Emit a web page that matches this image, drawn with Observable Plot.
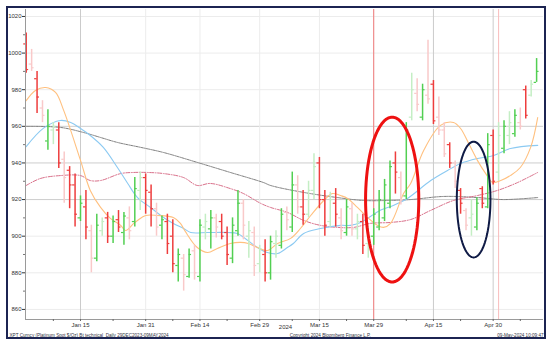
<!DOCTYPE html>
<html><head><meta charset="utf-8">
<script src="https://cdn.jsdelivr.net/npm/d3@7"></script>
<script src="https://cdn.jsdelivr.net/npm/@observablehq/plot@0.6"></script>
<style>
body{margin:0;background:#fff;}
#wrap{position:relative;width:555px;height:351px;overflow:hidden;background:#fff;}
#frame{position:absolute;left:6px;top:6px;width:536px;height:329px;border:2px solid #1c2452;pointer-events:none;}
</style></head>
<body><div id="wrap"><div id="chart"></div><div id="frame"></div></div>
<script>
// x tick labels (trading-day index) and minor ticks
const labelIdx = [10,22,32,43,54,64,75,86];
const labelTxt = ["Jan 15","Jan 31","Feb 14","Feb 29","Mar 15","Mar 29","Apr 15","Apr 30"];
const minorIdx = [5,16,27,37,49,59,70,80,91];
const yTicks = [860,880,900,920,940,960,980,1000,1020];
const yMinor = [870,890,910,930,950,970,990,1010];

// daily OHLC bars (Platinum spot), pale = light-tinted bar
const open  = [1005,994,986,970,952,958,958,942,936,928,910,916,903,888,903,910,900,909,902,910,908,925,932,924,915,906,908,900,884,888,878,892,878,905,904,910,908,902,888,903,918,900,902,885,890,880,896,895,913,905,928,916,912,925,940,920,908,918,910,902,915,904,908,896,900,905,910,918,940,932,922,965,978,965,977,983,965,958,950,940,925,914,910,905,926,916,955,935,948,955,956,962,980,977,984];
const high  = [1011,1002,990,974,969,962,962,946,938,934,922,925,906,912,910,913,911,914,913,916,932,935,934,928,918,911,912,909,893,890,893,895,909,912,914,912,912,905,910,925,920,908,905,895,898,900,903,915,916,935,933,925,930,945,943,925,924,926,915,920,918,912,912,905,915,925,931,941,946,935,962,989,986,983,1007,985,976,962,951,941,926,915,920,921,927,956,958,962,963,968,969,970,982,985,997];
const low   = [989,990,967,962,947,950,937,918,915,905,908,898,880,886,900,896,896,902,895,898,905,914,912,905,900,898,890,880,875,870,877,876,875,898,893,899,898,884,885,900,898,888,878,880,875,876,888,893,903,902,912,906,910,920,915,900,905,905,898,900,900,898,890,888,895,903,908,915,923,917,920,963,968,963,972,961,955,943,937,926,912,903,900,903,915,915,928,930,945,950,954,958,964,976,984];
const close = [991,992,976,966,960,960,940,932,928,912,918,905,888,906,908,900,908,905,911,903,926,932,925,915,905,909,896,885,890,879,890,880,906,908,910,905,900,890,906,918,906,903,884,893,880,897,900,912,909,928,916,912,925,938,920,906,920,912,903,916,904,908,895,900,912,920,928,938,935,920,958,980,972,980,975,963,958,945,940,930,918,906,912,918,918,950,930,955,960,962,966,960,966,983,990];
const pale  = [0,1,0,1,0,1,0,1,0,0,0,0,1,0,1,0,0,0,0,1,0,1,0,0,1,0,0,0,0,1,0,1,0,1,0,1,0,0,0,0,1,1,1,1,0,0,1,0,1,0,1,0,1,1,0,0,1,0,1,0,1,1,0,1,0,0,0,0,0,1,0,1,1,0,1,0,1,1,0,1,0,1,1,0,0,0,0,1,0,1,0,1,0,1,0];

// moving averages: [index, value]
const maOrange = [[0,974],[1.7,979.6],[3.6,981.2],[5.4,978.5],[6.9,968.7],[10,941.4],[11.8,925],[13.7,915.7],[15.5,909.7],[17.4,905.9],[18.3,903.1],[19.8,907],[20.5,908.6],[22,911.3],[24.2,911.3],[27.1,910.2],[28.4,907],[29.3,902.6],[31.5,893.8],[33.4,891.1],[35.2,893.3],[37.6,896],[39.5,896.6],[40.9,896],[42.6,893.8],[44.4,892.2],[46.3,896],[48.7,898.8],[50.5,904.2],[52.4,911.3],[54.8,919.5],[56.4,923.3],[57.9,922.2],[59.2,920.6],[61,915.7],[62.9,910.2],[64.7,905.9],[65.8,904.8],[67.1,907],[69.5,923.3],[70.8,928.8],[73.2,946.8],[76.3,960.5],[78.7,962.1],[80,958.8],[81.5,950.6],[83.1,941.4],[84.6,934.3],[85.9,929.3],[87.4,930.4],[89.2,933.2],[91,937.5],[92.9,948.5],[94.2,964.8]];
const maBlue = [[0,948.9],[3.2,959],[6.3,963.2],[8.2,962.1],[10,958.8],[11.8,955],[14.2,948.5],[16.8,937.5],[18.7,928.8],[20.5,921.1],[22.9,915.7],[25.3,910.2],[27.1,906.9],[29,904.2],[30.3,902],[33.4,902],[37.1,902],[38.9,901.5],[40.8,897.7],[42.6,893.8],[44.4,891.1],[46.3,890.5],[48.1,893.8],[49.2,896],[51.1,901.5],[54.2,904.2],[57.9,905.9],[59.7,905.9],[61.6,907.5],[65.2,914.1],[67.6,916.8],[70.2,920.6],[74.5,930.4],[77.6,935.9],[80,939.7],[83.1,942.4],[86.1,944.1],[89.2,947.9],[94.2,949.6]];
const maPink = [[0,927.7],[2.6,931.5],[6.3,933.1],[10,933.1],[11.8,930.4],[13.7,930.4],[17.4,934.2],[19.8,934.8],[22.3,934.8],[25.3,934.2],[29,932],[31.5,927.7],[33.9,928.8],[37.6,926],[40,923.3],[43.2,917.9],[45,915.7],[48.1,913],[51.1,908.6],[54.2,905.9],[57.3,904.8],[60.3,904.8],[63.4,907],[67.1,907.5],[70.8,909.1],[74.5,914.1],[78.7,919.5],[83.1,922.2],[86.8,925],[90.5,929.3],[94.2,934.8]];
const maGray = [[0,960],[6.3,959.4],[10.6,956.6],[13.7,953.9],[16.8,951.2],[21.1,948.5],[25.3,945.7],[31.5,940.3],[37.6,934.8],[43.7,929.3],[45,927.7],[51.1,923.9],[57.3,921.1],[62.1,919.5],[66.5,919.5],[70.8,920],[76.9,921.7],[83.1,921.1],[87.9,920],[94.2,921.1]];

// event lines and highlighted zones: [centre index, centre price, half-width (days), half-height (price)]
const eventIdx = [64, 87];
const ellipses = [[67.4, 920, 4.9, 45, "#ee1111", 3], [82.4, 920, 3.1, 31.6, "#0f1a45", 2]];

const bars = open.map((o,i)=>({i, o, h:high[i], l:low[i], c:close[i], up: close[i]>=o, pale: pale[i]===1}));
const col = d => d.up ? (d.pale ? "#c4eec4" : "#52cf52") : (d.pale ? "#f9c9c9" : "#ee3d3d");

const ellPts = ellipses.flatMap(([cx,cy,rx,ry,color,w],k)=>d3.range(0,361,4).map(a=>({k, x: cx+rx*Math.cos(a*Math.PI/180), y: cy+ry*Math.sin(a*Math.PI/180), color, w})));

const hGrid = yTicks.map(v=>({v, c: (v>=920 && v<=960) ? "#cdcdcd" : "#ececec"}));
const vGrid = labelIdx.map(v=>({v, c: (v===10||v===75||v===86) ? "#cbcbcb" : "#ececec"}));

const chart = Plot.plot({
  width: 555, height: 351,
  marginLeft: 25, marginRight: 12, marginTop: 9, marginBottom: 32,
  style: {fontFamily: "'Liberation Sans', Arial, sans-serif", fontSize: "6px", background: "transparent", color: "#333"},
  x: {domain: [-0.13, 95.27], axis: null},
  y: {domain: [854.5, 1023.8], axis: null},
  color: {type: "identity"},
  marks: [
    Plot.ruleY(hGrid, {y: "v", stroke: "c", strokeWidth: 1}),
    Plot.ruleX(vGrid, {x: "v", stroke: "c", strokeWidth: 1}),
    Plot.ruleX(eventIdx, {x: d=>d, stroke: (d,i)=> i===0 ? "#f07a7a" : "#f9bcbc", strokeWidth: 1}),
    Plot.line(maGray, {x: d=>d[0], y: d=>d[1], curve: "catmull-rom", stroke: "#7d7d7d", strokeWidth: 1, strokeDasharray: "1.5,1"}),
    Plot.line(maPink, {x: d=>d[0], y: d=>d[1], curve: "catmull-rom", stroke: "#d9708a", strokeWidth: 1, strokeDasharray: "4,1.5,1,1.5"}),
    Plot.line(maBlue, {x: d=>d[0], y: d=>d[1], curve: "catmull-rom", stroke: "#8ccaf2", strokeWidth: 1.1}),
    Plot.line(maOrange, {x: d=>d[0], y: d=>d[1], curve: "catmull-rom", stroke: "#ffc07f", strokeWidth: 1.1}),
    Plot.ruleX(bars, {x: "i", y1: "l", y2: "h", stroke: col, strokeWidth: 1.5}),
    Plot.ruleY(bars, {y: "o", x1: d=>d.i-0.45, x2: d=>d.i, stroke: col, strokeWidth: 1.2}),
    Plot.ruleY(bars, {y: "c", x1: d=>d.i, x2: d=>d.i+0.45, stroke: col, strokeWidth: 1.2}),
    Plot.line(ellPts, {x: "x", y: "y", z: "k", stroke: "color", strokeWidth: d=>d.w, curve: "linear-closed"}),
    // axes
    Plot.ruleX([-0.13], {stroke: "#9a9a9a"}),
    Plot.ruleY([854.5], {stroke: "#9a9a9a"}),
    Plot.axisY(yTicks, {anchor: "left", tickSize: 3, tickPadding: 1, fontSize: 6, tickFormat: d => String(d), stroke: "#333", fill: "#333"}),
    Plot.axisY(yMinor, {anchor: "left", tickSize: 2, tickFormat: () => "", stroke: "#777"}),
    Plot.axisX(labelIdx, {anchor: "bottom", tickSize: 2, tickPadding: 1, fontSize: 6, tickFormat: (d,i)=>labelTxt[i], stroke: "#666", fill: "#333"}),
    Plot.axisX(minorIdx, {anchor: "bottom", tickSize: 2, tickFormat: () => "", stroke: "#666"}),
    Plot.text(["2024"], {x: 47.75, frameAnchor: "bottom", dy: 9, fontSize: 6, fill: "#333"}),
    Plot.text(["XPT Curncy (Platinum Spot $/Oz) Bt technical  Daily 29DEC2023-09MAY2024"], {frameAnchor: "bottom-left", dx: -16, dy: 17, textAnchor: "start", fontSize: 4.6, fill: "#334"}),
    Plot.text(["Copyright 2024 Bloomberg Finance L.P."], {x: 56, frameAnchor: "bottom", dy: 17, fontSize: 4.6, fill: "#334"}),
    Plot.text(["09-May-2024 10:09:47"], {frameAnchor: "bottom-right", dx: 0, dy: 17, textAnchor: "end", fontSize: 4.6, fill: "#334"})
  ]
});
document.getElementById("chart").appendChild(chart);
</script>
</body></html>
